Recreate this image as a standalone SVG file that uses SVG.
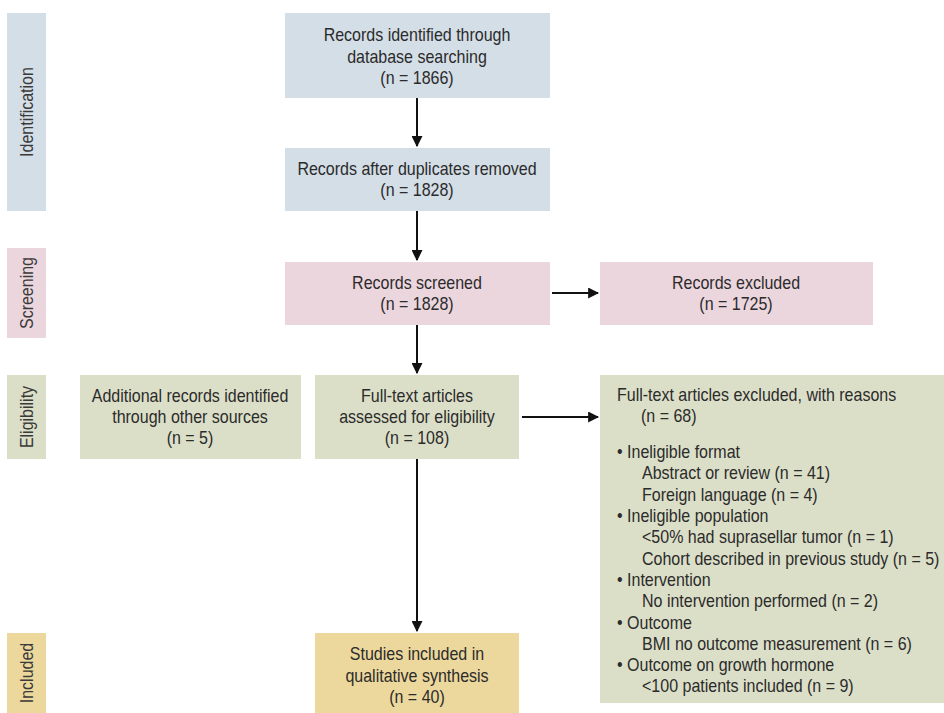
<svg xmlns="http://www.w3.org/2000/svg" width="944" height="713" viewBox="0 0 944 713">
  <style>
    text { font-family: "Liberation Sans", Arial, sans-serif; font-size: 18px; fill: #2b2b2b; }
    .c { text-anchor: middle; }
    .side { text-anchor: middle; fill: #3a3a3a; }
    .blue { fill: #d4dee7; }
    .pink { fill: #ebd6de; }
    .green { fill: #dcdfc8; }
    .yellow { fill: #ecd89c; }
    .conn line { stroke: #111; stroke-width: 2; }
  </style>
  <defs>
    <marker id="arrow" viewBox="0 0 10 10" refX="9" refY="5" markerWidth="5.5" markerHeight="5.5" orient="auto" markerUnits="strokeWidth">
      <path d="M0,0 L10,5 L0,10 z" fill="#111"/>
    </marker>
  </defs>

  <rect width="944" height="713" fill="#ffffff"/>

  <!-- stage labels (condensed lettering via horizontal scale) -->
  <g id="stage-identification">
    <rect class="blue" x="7" y="13" width="39" height="198"/>
    <text class="side" transform="translate(33,112) rotate(-90) scale(0.89,1)">Identification</text>
  </g>
  <g id="stage-screening">
    <rect class="pink" x="7" y="248" width="39" height="90"/>
    <text class="side" transform="translate(33,293) rotate(-90) scale(0.89,1)">Screening</text>
  </g>
  <g id="stage-eligibility">
    <rect class="green" x="7" y="375" width="39" height="84"/>
    <text class="side" transform="translate(33,417) rotate(-90) scale(0.89,1)">Eligibility</text>
  </g>
  <g id="stage-included">
    <rect class="yellow" x="7" y="633" width="39" height="80"/>
    <text class="side" transform="translate(33,673) rotate(-90) scale(0.89,1)">Included</text>
  </g>

  <!-- flow boxes -->
  <g id="records-identified">
    <rect class="blue" x="285" y="13" width="265" height="85"/>
    <text class="c" transform="translate(417,41) scale(0.89,1)">Records identified through</text>
    <text class="c" transform="translate(417,63) scale(0.89,1)">database searching</text>
    <text class="c" transform="translate(417,84) scale(0.89,1)">(n = 1866)</text>
  </g>
  <g id="duplicates-removed">
    <rect class="blue" x="285" y="148" width="265" height="63"/>
    <text class="c" transform="translate(417,175) scale(0.89,1)">Records after duplicates removed</text>
    <text class="c" transform="translate(417,196) scale(0.89,1)">(n = 1828)</text>
  </g>
  <g id="records-screened">
    <rect class="pink" x="285" y="262" width="265" height="63"/>
    <text class="c" transform="translate(417,289) scale(0.89,1)">Records screened</text>
    <text class="c" transform="translate(417,310) scale(0.89,1)">(n = 1828)</text>
  </g>
  <g id="records-excluded">
    <rect class="pink" x="600" y="262" width="273" height="63"/>
    <text class="c" transform="translate(736,289) scale(0.89,1)">Records excluded</text>
    <text class="c" transform="translate(736,310) scale(0.89,1)">(n = 1725)</text>
  </g>
  <g id="additional-records">
    <rect class="green" x="80" y="375" width="221" height="84"/>
    <text class="c" transform="translate(190,402) scale(0.89,1)">Additional records identified</text>
    <text class="c" transform="translate(190,423) scale(0.89,1)">through other sources</text>
    <text class="c" transform="translate(190,444) scale(0.89,1)">(n = 5)</text>
  </g>
  <g id="fulltext-assessed">
    <rect class="green" x="315" y="375" width="204" height="84"/>
    <text class="c" transform="translate(417,402) scale(0.89,1)">Full-text articles</text>
    <text class="c" transform="translate(417,423) scale(0.89,1)">assessed for eligibility</text>
    <text class="c" transform="translate(417,444) scale(0.89,1)">(n = 108)</text>
  </g>
  <g id="fulltext-excluded">
    <rect class="green" x="600" y="375" width="344" height="328"/>
    <text transform="translate(617,401) scale(0.89,1)">Full-text articles excluded, with reasons</text>
    <text transform="translate(641,422) scale(0.89,1)">(n = 68)</text>
    <text transform="translate(617,458) scale(0.89,1)">• Ineligible format</text>
    <text transform="translate(642,479) scale(0.89,1)">Abstract or review (n = 41)</text>
    <text transform="translate(642,501) scale(0.89,1)">Foreign language (n = 4)</text>
    <text transform="translate(617,522) scale(0.89,1)">• Ineligible population</text>
    <text transform="translate(642,543) scale(0.89,1)">&lt;50% had suprasellar tumor (n = 1)</text>
    <text transform="translate(642,565) scale(0.89,1)">Cohort described in previous study (n = 5)</text>
    <text transform="translate(617,586) scale(0.89,1)">• Intervention</text>
    <text transform="translate(642,607) scale(0.89,1)">No intervention performed (n = 2)</text>
    <text transform="translate(617,629) scale(0.89,1)">• Outcome</text>
    <text transform="translate(642,650) scale(0.89,1)">BMI no outcome measurement (n = 6)</text>
    <text transform="translate(617,671) scale(0.89,1)">• Outcome on growth hormone</text>
    <text transform="translate(642,692) scale(0.89,1)">&lt;100 patients included (n = 9)</text>
  </g>
  <g id="studies-included">
    <rect class="yellow" x="315" y="633" width="204" height="80"/>
    <text class="c" transform="translate(417,660) scale(0.89,1)">Studies included in</text>
    <text class="c" transform="translate(417,682) scale(0.89,1)">qualitative synthesis</text>
    <text class="c" transform="translate(417,703) scale(0.89,1)">(n = 40)</text>
  </g>

  <!-- connectors -->
  <g id="connectors" class="conn">
    <line x1="417" y1="98" x2="417" y2="146" marker-end="url(#arrow)"/>
    <line x1="417" y1="211" x2="417" y2="260" marker-end="url(#arrow)"/>
    <line x1="417" y1="325" x2="417" y2="373" marker-end="url(#arrow)"/>
    <line x1="417" y1="459" x2="417" y2="631" marker-end="url(#arrow)"/>
    <line x1="552" y1="293" x2="598" y2="293" marker-end="url(#arrow)"/>
    <line x1="522" y1="417" x2="598" y2="417" marker-end="url(#arrow)"/>
  </g>
</svg>
